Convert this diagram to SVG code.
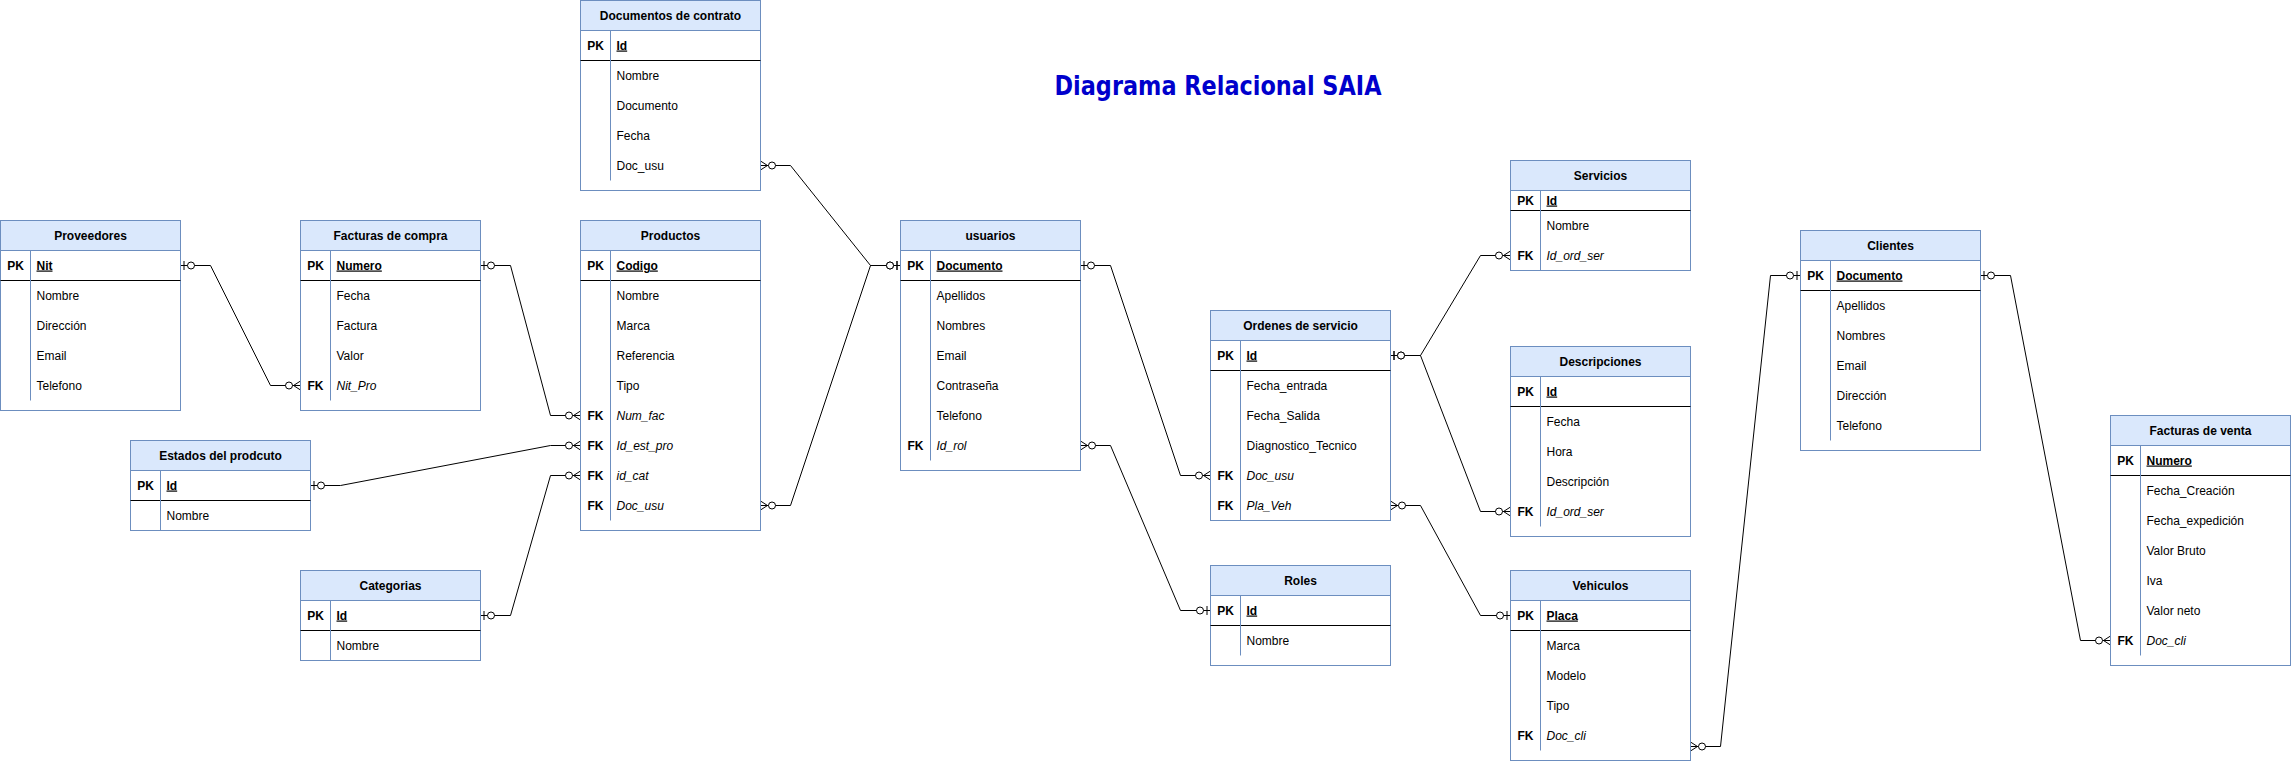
<svg xmlns="http://www.w3.org/2000/svg" width="2291" height="761" viewBox="0 0 2291 761">
<style>
.tbl{fill:#fff;stroke:#6c8ebf;stroke-width:1}
.hdr{fill:#dae8fc;stroke:#6c8ebf;stroke-width:1}
.sep{stroke:#6c8ebf;stroke-width:1}
.pkl{stroke:#000;stroke-width:1}
.t{font-family:"Liberation Sans",Arial,sans-serif;font-size:12px;fill:#000}
.h{font-weight:bold;text-anchor:middle}
.k{font-weight:bold;text-anchor:middle}
.pk{font-weight:bold;text-decoration:underline}
.fk{font-style:italic}
.edge{fill:none;stroke:#000;stroke-width:1}
.title{font-family:"DejaVu Sans","Comic Sans MS",sans-serif;font-size:26px;font-weight:bold;fill:#0000cc;text-anchor:middle}
</style>
<defs>
<marker id="zm" markerUnits="userSpaceOnUse" viewBox="-20 -8 22 16" refX="0" refY="0" markerWidth="22" markerHeight="16" orient="auto-start-reverse" overflow="visible">
<path d="M0,-4.5 L-7,0 L0,4.5" fill="none" stroke="#000" stroke-width="1"/>
<circle cx="-11.5" cy="0" r="3.5" fill="#fff" stroke="#000" stroke-width="1"/>
</marker>
<marker id="zo" markerUnits="userSpaceOnUse" viewBox="-20 -8 22 16" refX="0" refY="0" markerWidth="22" markerHeight="16" orient="auto-start-reverse" overflow="visible">
<path d="M-3.5,-4.5 V4.5" fill="none" stroke="#000" stroke-width="1"/>
<circle cx="-10.5" cy="0" r="3.5" fill="#fff" stroke="#000" stroke-width="1"/>
</marker>
</defs>
<rect x="0" y="0" width="2291" height="761" fill="#fff"/>
<text id="title" class="title" x="1218" y="95" textLength="327" lengthAdjust="spacingAndGlyphs">Diagrama Relacional SAIA</text>
<g transform="translate(0.5,0.5)">
<g id="connectors">
<path class="edge" marker-start="url(#zo)" marker-end="url(#zm)" d="M180,265 H210 L270,385 H300"/>
<path class="edge" marker-start="url(#zo)" marker-end="url(#zm)" d="M480,265 H510 L550,415 H580"/>
<path class="edge" marker-start="url(#zo)" marker-end="url(#zm)" d="M310,485 H340 L550,445 H580"/>
<path class="edge" marker-start="url(#zo)" marker-end="url(#zm)" d="M480,615 H510 L550,475 H580"/>
<path class="edge" marker-start="url(#zm)" marker-end="url(#zo)" d="M760,165 H790 L870,265 H900"/>
<path class="edge" marker-start="url(#zm)" marker-end="url(#zo)" d="M760,505 H790 L870,265 H900"/>
<path class="edge" marker-start="url(#zo)" marker-end="url(#zm)" d="M1080,265 H1110 L1180,475 H1210"/>
<path class="edge" marker-start="url(#zm)" marker-end="url(#zo)" d="M1080,445 H1110 L1180,610 H1210"/>
<path class="edge" marker-start="url(#zo)" marker-end="url(#zm)" d="M1390,355 H1420 L1480,255 H1510"/>
<path class="edge" marker-start="url(#zo)" marker-end="url(#zm)" d="M1390,355 H1420 L1480,511 H1510"/>
<path class="edge" marker-start="url(#zm)" marker-end="url(#zo)" d="M1390,505 H1420 L1480,615 H1510"/>
<path class="edge" marker-start="url(#zm)" marker-end="url(#zo)" d="M1690,746 H1720 L1770,275 H1800"/>
<path class="edge" marker-start="url(#zo)" marker-end="url(#zm)" d="M1980,275 H2010 L2080,640 H2110"/>
</g>

<g id="documentos">
<rect class="tbl" x="580" y="0" width="180" height="190"/>
<rect class="hdr" x="580" y="0" width="180" height="30"/>
<text class="t h" x="670" y="19">Documentos de contrato</text>
<line class="pkl" x1="580" y1="60" x2="760" y2="60"/>
<line class="sep" x1="610" y1="30" x2="610" y2="180"/>
<text class="t k" x="595" y="49">PK</text>
<text class="t pk" x="616" y="49">Id</text>
<text class="t" x="616" y="79">Nombre</text>
<text class="t" x="616" y="109">Documento</text>
<text class="t" x="616" y="139">Fecha</text>
<text class="t" x="616" y="169">Doc_usu</text>
</g>

<g id="proveedores">
<rect class="tbl" x="0" y="220" width="180" height="190"/>
<rect class="hdr" x="0" y="220" width="180" height="30"/>
<text class="t h" x="90" y="239">Proveedores</text>
<line class="pkl" x1="0" y1="280" x2="180" y2="280"/>
<line class="sep" x1="30" y1="250" x2="30" y2="400"/>
<text class="t k" x="15" y="269">PK</text>
<text class="t pk" x="36" y="269">Nit</text>
<text class="t" x="36" y="299">Nombre</text>
<text class="t" x="36" y="329">Dirección</text>
<text class="t" x="36" y="359">Email</text>
<text class="t" x="36" y="389">Telefono</text>
</g>

<g id="facturas-compra">
<rect class="tbl" x="300" y="220" width="180" height="190"/>
<rect class="hdr" x="300" y="220" width="180" height="30"/>
<text class="t h" x="390" y="239">Facturas de compra</text>
<line class="pkl" x1="300" y1="280" x2="480" y2="280"/>
<line class="sep" x1="330" y1="250" x2="330" y2="400"/>
<text class="t k" x="315" y="269">PK</text>
<text class="t pk" x="336" y="269">Numero</text>
<text class="t" x="336" y="299">Fecha</text>
<text class="t" x="336" y="329">Factura</text>
<text class="t" x="336" y="359">Valor</text>
<text class="t k" x="315" y="389">FK</text>
<text class="t fk" x="336" y="389">Nit_Pro</text>
</g>

<g id="productos">
<rect class="tbl" x="580" y="220" width="180" height="310"/>
<rect class="hdr" x="580" y="220" width="180" height="30"/>
<text class="t h" x="670" y="239">Productos</text>
<line class="pkl" x1="580" y1="280" x2="760" y2="280"/>
<line class="sep" x1="610" y1="250" x2="610" y2="520"/>
<text class="t k" x="595" y="269">PK</text>
<text class="t pk" x="616" y="269">Codigo</text>
<text class="t" x="616" y="299">Nombre</text>
<text class="t" x="616" y="329">Marca</text>
<text class="t" x="616" y="359">Referencia</text>
<text class="t" x="616" y="389">Tipo</text>
<text class="t k" x="595" y="419">FK</text>
<text class="t fk" x="616" y="419">Num_fac</text>
<text class="t k" x="595" y="449">FK</text>
<text class="t fk" x="616" y="449">Id_est_pro</text>
<text class="t k" x="595" y="479">FK</text>
<text class="t fk" x="616" y="479">id_cat</text>
<text class="t k" x="595" y="509">FK</text>
<text class="t fk" x="616" y="509">Doc_usu</text>
</g>

<g id="estados">
<rect class="tbl" x="130" y="440" width="180" height="90"/>
<rect class="hdr" x="130" y="440" width="180" height="30"/>
<text class="t h" x="220" y="459">Estados del prodcuto</text>
<line class="pkl" x1="130" y1="500" x2="310" y2="500"/>
<line class="sep" x1="160" y1="470" x2="160" y2="530"/>
<text class="t k" x="145" y="489">PK</text>
<text class="t pk" x="166" y="489">Id</text>
<text class="t" x="166" y="519">Nombre</text>
</g>

<g id="categorias">
<rect class="tbl" x="300" y="570" width="180" height="90"/>
<rect class="hdr" x="300" y="570" width="180" height="30"/>
<text class="t h" x="390" y="589">Categorias</text>
<line class="pkl" x1="300" y1="630" x2="480" y2="630"/>
<line class="sep" x1="330" y1="600" x2="330" y2="660"/>
<text class="t k" x="315" y="619">PK</text>
<text class="t pk" x="336" y="619">Id</text>
<text class="t" x="336" y="649">Nombre</text>
</g>

<g id="usuarios">
<rect class="tbl" x="900" y="220" width="180" height="250"/>
<rect class="hdr" x="900" y="220" width="180" height="30"/>
<text class="t h" x="990" y="239">usuarios</text>
<line class="pkl" x1="900" y1="280" x2="1080" y2="280"/>
<line class="sep" x1="930" y1="250" x2="930" y2="460"/>
<text class="t k" x="915" y="269">PK</text>
<text class="t pk" x="936" y="269">Documento</text>
<text class="t" x="936" y="299">Apellidos</text>
<text class="t" x="936" y="329">Nombres</text>
<text class="t" x="936" y="359">Email</text>
<text class="t" x="936" y="389">Contraseña</text>
<text class="t" x="936" y="419">Telefono</text>
<text class="t k" x="915" y="449">FK</text>
<text class="t fk" x="936" y="449">Id_rol</text>
</g>

<g id="ordenes">
<rect class="tbl" x="1210" y="310" width="180" height="210"/>
<rect class="hdr" x="1210" y="310" width="180" height="30"/>
<text class="t h" x="1300" y="329">Ordenes de servicio</text>
<line class="pkl" x1="1210" y1="370" x2="1390" y2="370"/>
<line class="sep" x1="1240" y1="340" x2="1240" y2="520"/>
<text class="t k" x="1225" y="359">PK</text>
<text class="t pk" x="1246" y="359">Id</text>
<text class="t" x="1246" y="389">Fecha_entrada</text>
<text class="t" x="1246" y="419">Fecha_Salida</text>
<text class="t" x="1246" y="449">Diagnostico_Tecnico</text>
<text class="t k" x="1225" y="479">FK</text>
<text class="t fk" x="1246" y="479">Doc_usu</text>
<text class="t k" x="1225" y="509">FK</text>
<text class="t fk" x="1246" y="509">Pla_Veh</text>
</g>

<g id="roles">
<rect class="tbl" x="1210" y="565" width="180" height="100"/>
<rect class="hdr" x="1210" y="565" width="180" height="30"/>
<text class="t h" x="1300" y="584">Roles</text>
<line class="pkl" x1="1210" y1="625" x2="1390" y2="625"/>
<line class="sep" x1="1240" y1="595" x2="1240" y2="655"/>
<text class="t k" x="1225" y="614">PK</text>
<text class="t pk" x="1246" y="614">Id</text>
<text class="t" x="1246" y="644">Nombre</text>
</g>

<g id="servicios">
<rect class="tbl" x="1510" y="160" width="180" height="110"/>
<rect class="hdr" x="1510" y="160" width="180" height="30"/>
<text class="t h" x="1600" y="179">Servicios</text>
<line class="pkl" x1="1510" y1="210" x2="1690" y2="210"/>
<line class="sep" x1="1540" y1="190" x2="1540" y2="270"/>
<text class="t k" x="1525" y="204">PK</text>
<text class="t pk" x="1546" y="204">Id</text>
<text class="t" x="1546" y="229">Nombre</text>
<text class="t k" x="1525" y="259">FK</text>
<text class="t fk" x="1546" y="259">Id_ord_ser</text>
</g>

<g id="descripciones">
<rect class="tbl" x="1510" y="346" width="180" height="190"/>
<rect class="hdr" x="1510" y="346" width="180" height="30"/>
<text class="t h" x="1600" y="365">Descripciones</text>
<line class="pkl" x1="1510" y1="406" x2="1690" y2="406"/>
<line class="sep" x1="1540" y1="376" x2="1540" y2="526"/>
<text class="t k" x="1525" y="395">PK</text>
<text class="t pk" x="1546" y="395">Id</text>
<text class="t" x="1546" y="425">Fecha</text>
<text class="t" x="1546" y="455">Hora</text>
<text class="t" x="1546" y="485">Descripción</text>
<text class="t k" x="1525" y="515">FK</text>
<text class="t fk" x="1546" y="515">Id_ord_ser</text>
</g>

<g id="vehiculos">
<rect class="tbl" x="1510" y="570" width="180" height="190"/>
<rect class="hdr" x="1510" y="570" width="180" height="30"/>
<text class="t h" x="1600" y="589">Vehiculos</text>
<line class="pkl" x1="1510" y1="630" x2="1690" y2="630"/>
<line class="sep" x1="1540" y1="600" x2="1540" y2="750"/>
<text class="t k" x="1525" y="619">PK</text>
<text class="t pk" x="1546" y="619">Placa</text>
<text class="t" x="1546" y="649">Marca</text>
<text class="t" x="1546" y="679">Modelo</text>
<text class="t" x="1546" y="709">Tipo</text>
<text class="t k" x="1525" y="739">FK</text>
<text class="t fk" x="1546" y="739">Doc_cli</text>
</g>

<g id="clientes">
<rect class="tbl" x="1800" y="230" width="180" height="220"/>
<rect class="hdr" x="1800" y="230" width="180" height="30"/>
<text class="t h" x="1890" y="249">Clientes</text>
<line class="pkl" x1="1800" y1="290" x2="1980" y2="290"/>
<line class="sep" x1="1830" y1="260" x2="1830" y2="440"/>
<text class="t k" x="1815" y="279">PK</text>
<text class="t pk" x="1836" y="279">Documento</text>
<text class="t" x="1836" y="309">Apellidos</text>
<text class="t" x="1836" y="339">Nombres</text>
<text class="t" x="1836" y="369">Email</text>
<text class="t" x="1836" y="399">Dirección</text>
<text class="t" x="1836" y="429">Telefono</text>
</g>

<g id="facturas-venta">
<rect class="tbl" x="2110" y="415" width="180" height="250"/>
<rect class="hdr" x="2110" y="415" width="180" height="30"/>
<text class="t h" x="2200" y="434">Facturas de venta</text>
<line class="pkl" x1="2110" y1="475" x2="2290" y2="475"/>
<line class="sep" x1="2140" y1="445" x2="2140" y2="655"/>
<text class="t k" x="2125" y="464">PK</text>
<text class="t pk" x="2146" y="464">Numero</text>
<text class="t" x="2146" y="494">Fecha_Creación</text>
<text class="t" x="2146" y="524">Fecha_expedición</text>
<text class="t" x="2146" y="554">Valor Bruto</text>
<text class="t" x="2146" y="584">Iva</text>
<text class="t" x="2146" y="614">Valor neto</text>
<text class="t k" x="2125" y="644">FK</text>
<text class="t fk" x="2146" y="644">Doc_cli</text>
</g>
</g>
</svg>
